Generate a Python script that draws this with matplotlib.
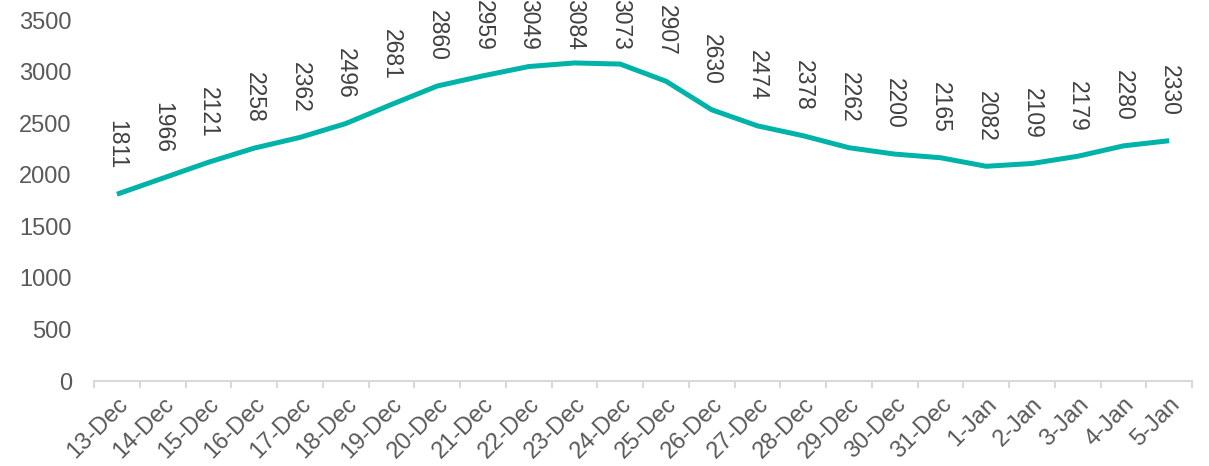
import matplotlib.pyplot as plt

dates = ['13-Dec', '14-Dec', '15-Dec', '16-Dec', '17-Dec', '18-Dec', '19-Dec', '20-Dec',
         '21-Dec', '22-Dec', '23-Dec', '24-Dec', '25-Dec', '26-Dec', '27-Dec', '28-Dec',
         '29-Dec', '30-Dec', '31-Dec', '1-Jan', '2-Jan', '3-Jan', '4-Jan', '5-Jan']
values = [1811, 1966, 2121, 2258, 2362, 2496, 2681, 2860, 2959, 3049, 3084, 3073,
          2907, 2630, 2474, 2378, 2262, 2200, 2165, 2082, 2109, 2179, 2280, 2330]

plt.rcParams['font.family'] = ['Liberation Sans', 'DejaVu Sans']
text_col = '#595959'
axis_col = '#D9D9D9'

fig = plt.figure(figsize=(12.09, 4.66), dpi=100)
ax = fig.add_axes([0.0778, 0.1824, 0.9082, 0.7746])

x = list(range(len(dates)))
ax.plot(x, values, color='#00B3A8', linewidth=3.6, solid_capstyle='butt')

ax.set_xlim(-0.5, len(dates) - 0.5)
ax.set_ylim(0, 3500)
ax.set_yticks(range(0, 3501, 500))

# data labels above each point; near the top they get pushed down (like Excel does)
fig_h = fig.get_figheight() * fig.dpi
for xi, v in zip(x, values):
    py = ax.transData.transform((xi, v))[1]
    off_px = min(25, fig_h - 50 - py)
    ax.annotate(str(v), (xi, v), xytext=(0, off_px * 72 / fig.dpi), textcoords='offset points',
                rotation=270, ha='center', va='bottom', fontsize=16.5,
                color='#404040', annotation_clip=False)

# tick marks between categories, labels at centres
ax.set_xticks([i - 0.5 for i in range(len(dates) + 1)])
ax.set_xticklabels([])
ax.set_xticks(x, minor=True)
ax.set_xticklabels(dates, minor=True, rotation=45, ha='right', rotation_mode='anchor')
ax.tick_params(axis='x', which='major', length=5, color=axis_col, width=1.5)
ax.tick_params(axis='x', which='minor', length=0, pad=9, labelsize=17, labelcolor=text_col)
ax.tick_params(axis='y', length=0, pad=16, labelsize=17, labelcolor=text_col)

for s in ['top', 'right', 'left']:
    ax.spines[s].set_visible(False)
ax.spines['bottom'].set_color(axis_col)
ax.spines['bottom'].set_linewidth(1.5)

fig.savefig('out.png', dpi=100)
